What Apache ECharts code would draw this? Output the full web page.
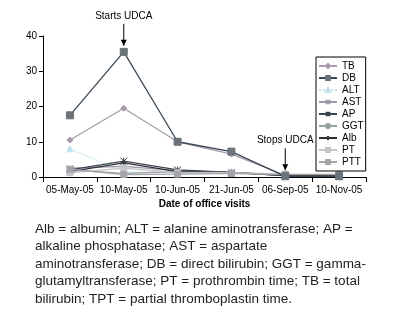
<!DOCTYPE html>
<html><head><meta charset="utf-8">
<script src="https://cdn.jsdelivr.net/npm/echarts@6/dist/echarts.min.js"></script>
<style>html,body{margin:0;padding:0;background:#fff}#c{width:396px;height:334px}</style>
</head><body><div id="c"></div>
<script>
var categories = ['05-May-05','10-May-05','10-Jun-05','21-Jun-05','06-Sep-05','10-Nov-05'];
var yTicks = [0,10,20,30,40];
var TB  = [10.5, 19.5, 10, 6.5, 0.5, 0.5];
var DB  = [17.5, 35.5, 10, 7.2, 0.2, 0.2];
var ALT = [8, 1.5, 1, 1, 0.5, 0.5];
var AST = [2.5, 3, 1.8, 1.3, 0.5, 0.5];
var AP  = [2, 4.5, 2, 1.3, 0.4, 0.4];
var GGT = [2, 1, 1.5, 1.3, 0.5, 0.5];
var Alb = [1.5, 4, 1.5, 1.3, 0.4, 0.4];
var PT  = [1.2, 2.5, 1.2, 1.2, 0.8, 0.8];
var PTT = [2.2, 0.7, 0.8, 1, 0.7, 0.7];
var annotations = [{text:'Starts UDCA', cat:1, value:35.5}, {text:'Stops UDCA', cat:4, value:0.2}];
var caption = 'Alb = albumin; ALT = alanine aminotransferase; AP =\nalkaline phosphatase; AST = aspartate\naminotransferase; DB = direct bilirubin; GGT = gamma-\nglutamyltransferase; PT = prothrombin time; TB = total\nbilirubin; TPT = partial thromboplastin time.';

var DASH = 'path://M0,4L10,4L10,6L0,6Z';
var seriesDefs = [
  {name:'TB', data:TB, color:'#a99caa', symbol:'diamond', size:6, type:'solid'},
  {name:'DB', data:DB, color:'#3a4856', symbol:'rect', size:7, type:'solid', mcolor:'#6b7378'},
  {name:'ALT', data:ALT, color:'#bfe0ee', symbol:'triangle', size:6, type:'dotted'},
  {name:'AST', data:AST, color:'#9e95a8', symbol:'path://M0,0L10,10M10,0L0,10', size:6, type:'solid'},
  {name:'AP', data:AP, color:'#3c4650', symbol:'path://M0,0L10,10M10,0L0,10M5,0L5,10', size:7, type:'solid'},
  {name:'GGT', data:GGT, color:'#95a09a', symbol:'circle', size:4, type:'solid'},
  {name:'Alb', data:Alb, color:'#2e3236', symbol:'path://M5,0L5,10M0,5L10,5', size:7, type:'solid'},
  {name:'PT', data:PT, color:'#c4c6c8', symbol:DASH, size:6, type:'solid'},
  {name:'PTT', data:PTT, color:'#a6a3ab', symbol:DASH, size:6, type:'solid'}
];
var FONT = '"Liberation Sans", Arial, sans-serif';
var chart = echarts.init(document.getElementById('c'));
var option = {
  animation:false,
  textStyle:{fontFamily:FONT},
  grid:{left:43, top:36, width:323, height:141, containLabel:false},
  xAxis:{type:'category', data:categories, boundaryGap:true,
    axisLine:{lineStyle:{color:'#000', width:1}},
    axisTick:{show:true, alignWithLabel:false, length:5, lineStyle:{color:'#000'}},
    axisLabel:{color:'#000', fontSize:10, margin:8, interval:0, fontFamily:FONT},
    name:'Date of office visits', nameLocation:'middle', nameGap:22,
    nameTextStyle:{color:'#000', fontSize:10, fontWeight:'bold', fontFamily:FONT}},
  yAxis:{type:'value', min:yTicks[0], max:yTicks[yTicks.length-1], interval:10,
    axisLine:{show:true, lineStyle:{color:'#000', width:1}},
    axisTick:{show:true, length:4, lineStyle:{color:'#000'}},
    axisLabel:{color:'#000', fontSize:10, margin:6, fontFamily:FONT},
    splitLine:{show:false}},
  legend:{orient:'vertical', left:316, top:57,
    data:seriesDefs.map(function(s){return s.name;}),
    itemWidth:18, itemHeight:5, itemGap:0, padding:[3,2,3,2],
    borderColor:'#000', borderWidth:1, backgroundColor:'#fff',
    textStyle:{color:'#000', fontSize:10, fontFamily:FONT, lineHeight:12}},
  series: seriesDefs.map(function(s){
    return {name:s.name, type:'line', data:s.data, symbol:s.symbol, symbolSize:s.size,
      showSymbol:true, z: s.name==='DB'?5:3,
      lineStyle:{color:s.color, width:1.3, type:s.type},
      itemStyle:{color:s.mcolor||s.color, borderColor:s.mcolor||s.color, borderWidth:1}};
  })
};
chart.setOption(option);
var g = [];
annotations.forEach(function(a){
  var p = chart.convertToPixel({xAxisIndex:0, yAxisIndex:0}, [a.cat, a.value]);
  var tipY = p[1]-6, topY = tipY-22;
  g.push({type:'line', shape:{x1:p[0], y1:topY, x2:p[0], y2:tipY}, style:{stroke:'#000', lineWidth:1}});
  g.push({type:'polygon', shape:{points:[[p[0]-3,tipY-6],[p[0]+3,tipY-6],[p[0],tipY]]}, style:{fill:'#000'}});
  g.push({type:'text', x:p[0], y:topY-3, style:{text:a.text, fill:'#000', font:'10px '+FONT, align:'center', verticalAlign:'bottom'}});
});
g.push({type:'text', x:35, y:220, style:{text:caption, fill:'#222', font:'13.5px '+FONT, lineHeight:17.6, align:'left', verticalAlign:'top'}});
chart.setOption({graphic:g});
</script></body></html>
